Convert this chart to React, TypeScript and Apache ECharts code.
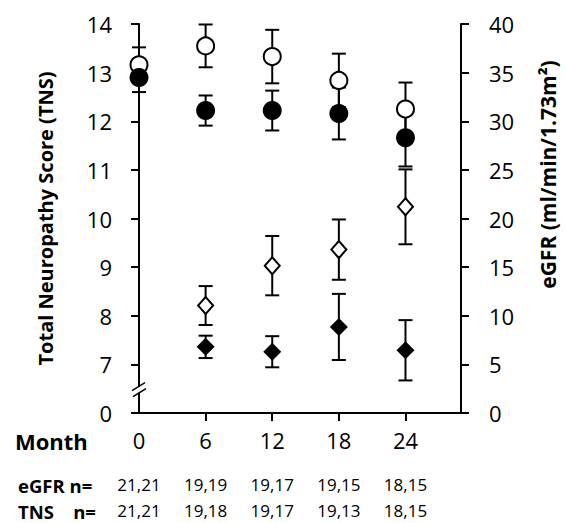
import React, { useEffect, useRef } from "react";
import * as echarts from "echarts";

const months = [0, 6, 12, 18, 24];
const egfrN = ["21,21", "19,19", "19,17", "19,15", "18,15"];
const tnsN = ["21,21", "19,18", "19,17", "19,13", "18,15"];

const egfrOpen = [35.8, 37.75, 36.65, 34.2, 31.25];
const egfrOpenErr = [1.8, 2.2, 2.75, 2.75, 2.73];
const egfrFilled = [34.5, 31.1, 31.1, 30.8, 28.3];
const egfrFilledErr = [1.5, 1.55, 2.05, 2.67, 2.95];

const tnsMonths = [6, 12, 18, 24];
const tnsOpen = [8.21, 9.03, 9.36, 10.24];
const tnsOpenErr = [0.4, 0.61, 0.62, 0.77];
const tnsFilled = [7.36, 7.26, 7.77, 7.29];
const tnsFilledErr = [0.23, 0.32, 0.68, 0.62];

const FONT = "Open Sans";

const errRender = (params: any, api: any) => {
  const x = api.value(0);
  const lo = api.value(1);
  const hi = api.value(2);
  const pLo = api.coord([x, lo]);
  const pHi = api.coord([x, hi]);
  const w = 7;
  const style = { stroke: "#000", lineWidth: 2, fill: "none" };
  return {
    type: "group",
    children: [
      { type: "line", shape: { x1: pLo[0], y1: pLo[1], x2: pHi[0], y2: pHi[1] }, style },
      { type: "line", shape: { x1: pLo[0] - w, y1: pLo[1], x2: pLo[0] + w, y2: pLo[1] }, style },
      { type: "line", shape: { x1: pHi[0] - w, y1: pHi[1], x2: pHi[0] + w, y2: pHi[1] }, style },
    ],
  };
};

const errData = (xs: number[], v: number[], e: number[]) =>
  xs.map((x, i) => [x, v[i] - e[i], v[i] + e[i]]);
const ptData = (xs: number[], v: number[]) => xs.map((x, i) => [x, v[i]]);

export default function App() {
  const ref = useRef<HTMLDivElement>(null);
  useEffect(() => {
    const chart = echarts.init(ref.current!, undefined, { renderer: "svg" });
    const axisLine = { show: true, lineStyle: { color: "#000", width: 2 } };
    const axisTick = { show: true, length: 8, lineStyle: { color: "#000", width: 2 } };
    chart.setOption({
      animation: false,
      backgroundColor: "#fff",
      grid: { left: 139, right: 103, top: 24, bottom: 110 },
      xAxis: {
        type: "value",
        min: 0,
        max: 29,
        axisLine,
        axisTick: { ...axisTick, customValues: [6, 12, 18, 24] },
        splitLine: { show: false },
        axisLabel: {
          customValues: months,
          margin: 12,
          formatter: (v: number) => {
            const i = months.indexOf(v);
            return `{m|${v}}\n{s| }\n{n|${egfrN[i]}}\n{n|${tnsN[i]}}`;
          },
          rich: {
            m: { fontSize: 22, lineHeight: 30, fontFamily: FONT, color: "#000" },
            s: { fontSize: 2, lineHeight: 16 },
            n: { fontSize: 17, lineHeight: 26, fontFamily: FONT, color: "#000" },
          },
        },
      },
      yAxis: [
        {
          type: "value",
          min: 6,
          max: 14,
          interval: 1,
          axisLine,
          axisTick,
          splitLine: { show: false },
          axisLabel: {
            margin: 27,
            fontSize: 22,
            fontFamily: FONT,
            color: "#000",
            formatter: (v: number) => (v === 6 ? "0" : String(v)),
          },
          name: "Total Neuropathy Score (TNS)",
          nameLocation: "middle",
          nameGap: 84,
          nameRotate: 90,
          nameTextStyle: { fontSize: 20, fontWeight: "bold", fontFamily: FONT, color: "#000" },
        },
        {
          type: "value",
          min: 0,
          max: 40,
          interval: 5,
          position: "right",
          axisLine,
          axisTick,
          splitLine: { show: false },
          axisLabel: { margin: 28, fontSize: 22, fontFamily: FONT, color: "#000" },
          name: "eGFR (ml/min/1.73m²)",
          nameLocation: "middle",
          nameGap: 76,
          nameRotate: 90,
          nameTextStyle: {
            fontSize: 21,
            fontWeight: "bold",
            fontFamily: FONT,
            color: "#000",
            padding: [0, 0, 0, 88],
          },
        },
      ],
      series: [
        { type: "custom", yAxisIndex: 1, renderItem: errRender, data: errData(months, egfrOpen, egfrOpenErr), encode: { x: 0, y: [1, 2] }, z: 2 },
        { type: "custom", yAxisIndex: 1, renderItem: errRender, data: errData(months, egfrFilled, egfrFilledErr), encode: { x: 0, y: [1, 2] }, z: 2 },
        { type: "custom", yAxisIndex: 0, renderItem: errRender, data: errData(tnsMonths, tnsOpen, tnsOpenErr), encode: { x: 0, y: [1, 2] }, z: 2 },
        { type: "custom", yAxisIndex: 0, renderItem: errRender, data: errData(tnsMonths, tnsFilled, tnsFilledErr), encode: { x: 0, y: [1, 2] }, z: 2 },
        { type: "scatter", yAxisIndex: 1, symbol: "circle", symbolSize: 17, data: ptData(months, egfrOpen), itemStyle: { color: "#fff", borderColor: "#000", borderWidth: 2, opacity: 1 }, z: 3 },
        { type: "scatter", yAxisIndex: 1, symbol: "circle", symbolSize: 19, data: ptData(months, egfrFilled), itemStyle: { color: "#000", opacity: 1 }, z: 4 },
        { type: "scatter", yAxisIndex: 0, symbol: "diamond", symbolSize: [15, 17], data: ptData(tnsMonths, tnsOpen), itemStyle: { color: "#fff", borderColor: "#000", borderWidth: 2, opacity: 1 }, z: 3 },
        { type: "scatter", yAxisIndex: 0, symbol: "diamond", symbolSize: [18, 18], data: ptData(tnsMonths, tnsFilled), itemStyle: { color: "#000", opacity: 1 }, z: 4 },
      ],
    });
    const bx = chart.convertToPixel({ xAxisIndex: 0 }, 0) as number;
    const by = chart.convertToPixel({ yAxisIndex: 0 }, 6.48) as number;
    const labelStyle = (text: string, size: number, x: number, y: number) => ({
      type: "text",
      x,
      y,
      style: { text, fontSize: size, fontWeight: "bold", fontFamily: FONT, fill: "#000", verticalAlign: "middle", align: "left" },
    });
    chart.setOption({
      graphic: [
        { type: "rect", shape: { x: bx - 3, y: by - 3, width: 6, height: 6 }, style: { fill: "#fff" }, z: 10 },
        { type: "line", shape: { x1: bx - 7, y1: by + 1, x2: bx + 6, y2: by - 7 }, style: { stroke: "#000", lineWidth: 1.5 }, z: 11 },
        { type: "line", shape: { x1: bx - 6, y1: by + 7, x2: bx + 7, y2: by - 1 }, style: { stroke: "#000", lineWidth: 1.5 }, z: 11 },
        labelStyle("Month", 22, 15, 441),
        labelStyle("eGFR n=", 18.5, 18, 485),
        labelStyle("TNS    n=", 18.5, 18, 511),
      ],
    });
    return () => chart.dispose();
  }, []);
  return <div ref={ref} style={{ position: "fixed", left: 0, top: 0, width: 566, height: 523 }} />;
}
